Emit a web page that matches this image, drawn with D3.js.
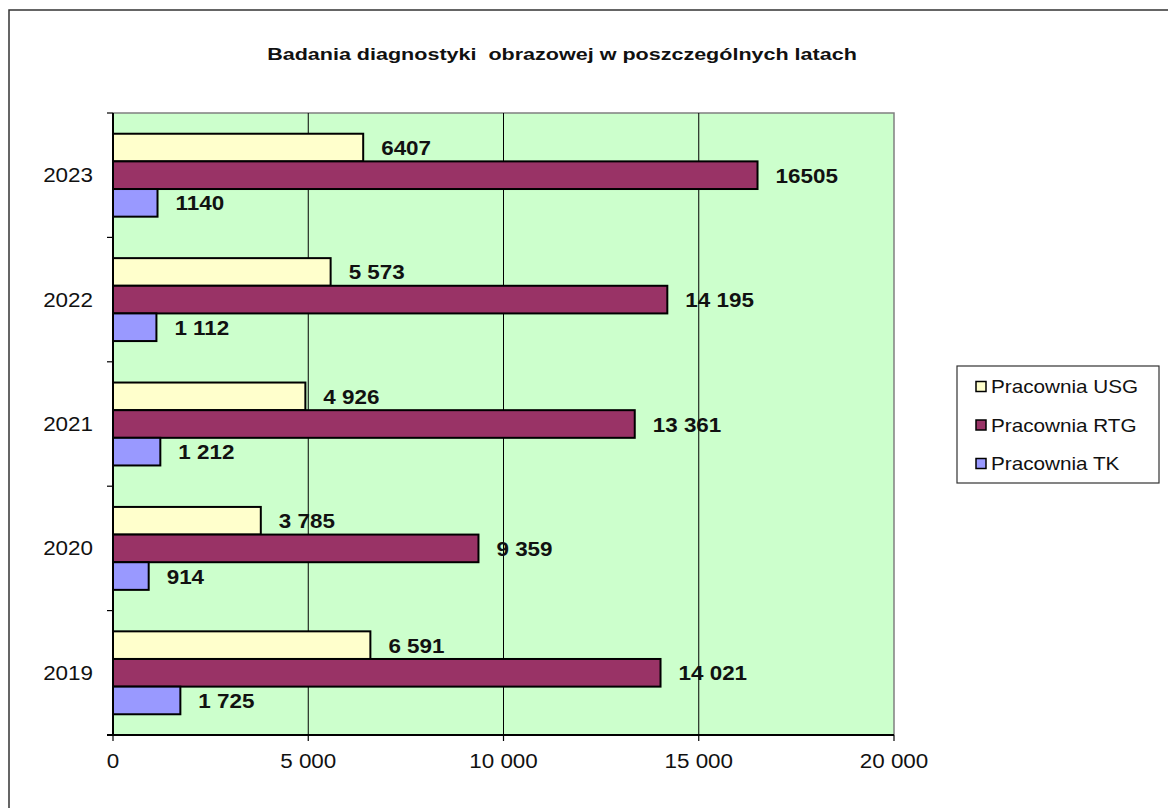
<!DOCTYPE html>
<html><head><meta charset="utf-8">
<script src="https://cdn.jsdelivr.net/npm/d3@7"></script>
<style>html,body{margin:0;padding:0;background:#fff;}svg{display:block;}</style>
</head><body>
<svg id="chart" width="1168" height="808"></svg>
<script>
const title = "Badania diagnostyki  obrazowej w poszczególnych latach";
const years = ["2023", "2022", "2021", "2020", "2019"];
const seriesNames = ["Pracownia USG", "Pracownia RTG", "Pracownia TK"];
const seriesColors = ["#FFFFCC", "#993366", "#9999FF"];
const usgValues = [6407, 5573, 4926, 3785, 6591];
const rtgValues = [16505, 14195, 13361, 9359, 14021];
const tkValues = [1140, 1112, 1212, 914, 1725];
const usgLabels = ["6407", "5 573", "4 926", "3 785", "6 591"];
const rtgLabels = ["16505", "14 195", "13 361", "9 359", "14 021"];
const tkLabels = ["1140", "1 112", "1 212", "914", "1 725"];
const xTicks = [0, 5000, 10000, 15000, 20000];
const xTickLabels = ["0", "5 000", "10 000", "15 000", "20 000"];

const seriesValues = [usgValues, rtgValues, tkValues];
const seriesLabels = [usgLabels, rtgLabels, tkLabels];

const FONT = "'Liberation Sans', Arial, sans-serif";
const SX = 1.15;
const svg = d3.select("#chart");

function stext(parent, x, y, str, size, anchor, bold) {
  return parent.append("text")
    .attr("transform", `translate(${x},${y}) scale(${SX},1)`)
    .attr("text-anchor", anchor || "start")
    .attr("font-family", FONT)
    .attr("font-size", size)
    .attr("font-weight", bold ? "bold" : "normal")
    .attr("fill", "#111")
    .text(str);
}

// outer frame
svg.append("rect").attr("x", 9).attr("y", 10).attr("width", 1200).attr("height", 900)
  .attr("fill", "#fff").attr("stroke", "#333").attr("stroke-width", 1.5);

// title
const t = svg.append("text").attr("x", 0).attr("y", 0)
  .attr("font-family", FONT).attr("font-size", 17).attr("font-weight", "bold")
  .attr("fill", "#111").attr("text-anchor", "middle")
  .attr("xml:space", "preserve").style("white-space", "pre").text(title);
const tw = t.node().getComputedTextLength();
t.attr("transform", `translate(562,60) scale(${590 / tw},1)`);

const L = 113, R = 894, T = 113, B = 735;
const x = d3.scaleLinear().domain([0, 20000]).range([L, R]);
const y = d3.scaleBand().domain(years).range([T, B]).paddingInner(0).paddingOuter(0);
const ySub = d3.scaleBand().domain(seriesNames).range([0, y.bandwidth()])
  .paddingInner(0).paddingOuter(0.75);

// plot background
svg.append("rect").attr("x", L).attr("y", T).attr("width", R - L).attr("height", B - T)
  .attr("fill", "#CCFFCC");
// top & right border grey
svg.append("path").attr("d", `M${L},${T}H${R}V${B}`).attr("fill", "none")
  .attr("stroke", "#808080").attr("stroke-width", 1.5);

// gridlines
svg.append("g").selectAll("line").data(xTicks.filter(d => d > 0 && d < 20000)).join("line")
  .attr("x1", d => x(d)).attr("x2", d => x(d)).attr("y1", T).attr("y2", B)
  .attr("stroke", "#000").attr("stroke-width", 1);

// bars
const groups = svg.append("g").selectAll("g").data(years).join("g")
  .attr("transform", d => `translate(0,${y(d)})`);
seriesNames.forEach((s, si) => {
  groups.append("rect")
    .attr("x", x(0))
    .attr("y", ySub(s))
    .attr("width", (d, i) => x(seriesValues[si][i]) - x(0))
    .attr("height", ySub.bandwidth())
    .attr("fill", seriesColors[si])
    .attr("stroke", "#000").attr("stroke-width", 2);
});

// data labels
years.forEach((yr, i) => {
  seriesNames.forEach((s, si) => {
    const yy = y(yr) + ySub(s) + ySub.bandwidth() / 2 + 7.5;
    stext(svg, x(seriesValues[si][i]) + 18, yy, seriesLabels[si][i], 19.5, "start", true);
  });
});

// y axis
const yAxisG = svg.append("g");
yAxisG.append("line").attr("x1", L).attr("x2", L).attr("y1", T).attr("y2", B)
  .attr("stroke", "#000").attr("stroke-width", 2);
const boundaries = years.map(d => y(d)).concat([B]);
yAxisG.selectAll("line.tk").data(boundaries).join("line").attr("class", "tk")
  .attr("x1", L - 6).attr("x2", L).attr("y1", d => d).attr("y2", d => d)
  .attr("stroke", "#000").attr("stroke-width", 1.2);
years.forEach(yr => {
  stext(svg, 93, y(yr) + y.bandwidth() / 2 + 7, yr, 19.5, "end", false);
});

// x axis
const xAxisG = svg.append("g");
xAxisG.append("line").attr("x1", L - 6).attr("x2", R).attr("y1", B).attr("y2", B)
  .attr("stroke", "#000").attr("stroke-width", 2);
xAxisG.selectAll("line.tk").data(xTicks).join("line").attr("class", "tk")
  .attr("x1", d => x(d)).attr("x2", d => x(d)).attr("y1", B).attr("y2", B + 6)
  .attr("stroke", "#000").attr("stroke-width", 1.2);
xTicks.forEach((v, i) => {
  stext(svg, x(v), 768, xTickLabels[i], 19.5, "middle", false);
});

// legend
const lg = svg.append("g");
lg.append("rect").attr("x", 957).attr("y", 366).attr("width", 202).attr("height", 117)
  .attr("fill", "#fff").attr("stroke", "#333").attr("stroke-width", 1.2);
seriesNames.forEach((s, i) => {
  const cy = 386.5 + i * 38.5;
  lg.append("rect").attr("x", 976).attr("y", cy - 5).attr("width", 10).attr("height", 10)
    .attr("fill", seriesColors[i]).attr("stroke", "#000").attr("stroke-width", 1.5);
  stext(lg, 991, cy + 6.5, s, 18, "start", false);
});
</script>
</body></html>
